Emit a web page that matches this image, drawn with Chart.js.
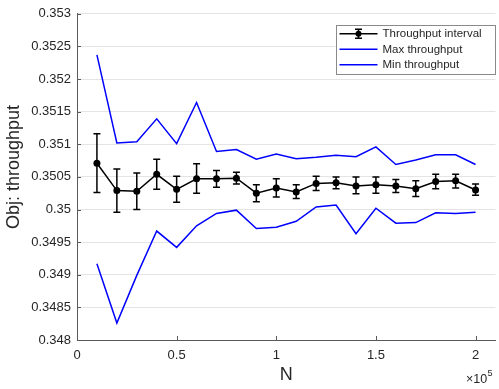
<!DOCTYPE html>
<html>
<head>
<meta charset="utf-8">
<script src="https://cdn.jsdelivr.net/npm/chart.js@4/dist/chart.umd.min.js"></script>
<style>
  body { margin: 0; background: #fff; }
  canvas { display: block; }
</style>
</head>
<body>
<canvas id="grafico" width="499" height="389"></canvas>
<script>
// N values (plotted in units of 10^5 on the axis)
const nValues = [10000, 20000, 30000, 40000, 50000, 60000, 70000, 80000, 90000, 100000,
  110000, 120000, 130000, 140000, 150000, 160000, 170000, 180000, 190000, 200000];

const meanThroughput = [0.35071, 0.35029, 0.35028, 0.35054, 0.35031, 0.35047, 0.35047, 0.35048, 0.35025, 0.35033,
  0.35027, 0.35040, 0.35041, 0.35036, 0.35038, 0.35036, 0.35032, 0.35043, 0.35044, 0.35030];
const ciUpper = [0.35116, 0.35062, 0.35056, 0.35077, 0.35051, 0.35070, 0.35060, 0.35057, 0.35038, 0.35047,
  0.35038, 0.35051, 0.35050, 0.35050, 0.35050, 0.35046, 0.35044, 0.35054, 0.35054, 0.35039];
const ciLower = [0.35026, 0.34996, 0.35000, 0.35031, 0.35011, 0.35025, 0.35034, 0.35039, 0.35012, 0.35019,
  0.35017, 0.35029, 0.35032, 0.35024, 0.35025, 0.35026, 0.35020, 0.35032, 0.35033, 0.35022];
const maxThroughput = [0.35237, 0.35102, 0.35104, 0.35139, 0.35101, 0.35164, 0.35089, 0.35092, 0.35077, 0.35085,
  0.35078, 0.35080, 0.35083, 0.35081, 0.35096, 0.35069, 0.35076, 0.35084, 0.35084, 0.35069];
const minThroughput = [0.34917, 0.34826, 0.34899, 0.34967, 0.34942, 0.34975, 0.34994, 0.34999, 0.34971, 0.34973,
  0.34982, 0.35004, 0.35007, 0.34963, 0.35002, 0.34979, 0.34980, 0.34995, 0.34994, 0.34996];

const xTicks = [0, 50000, 100000, 150000, 200000];
const yTicks = [0.348, 0.3485, 0.349, 0.3495, 0.35, 0.3505, 0.351, 0.3515, 0.352, 0.3525, 0.353];

const seriesNames = ["Throughput interval", "Max throughput", "Min throughput"];

const FONT = "'Liberation Sans', Arial, sans-serif";
const AXIS_COLOR = "#5a5a5a";
const TEXT_COLOR = "#262626";

const pts = arr => arr.map((v, i) => ({ x: nValues[i], y: v }));

// error bars + inside tick marks + axis titles + legend
const extras = {
  id: "extras",
  beforeDatasetsDraw(chart) {
    const ctx = chart.ctx, xs = chart.scales.x, ys = chart.scales.y;
    ctx.save();
    ctx.strokeStyle = "#000";
    ctx.lineWidth = 1.5;
    nValues.forEach((n, i) => {
      const px = xs.getPixelForValue(n);
      const top = ys.getPixelForValue(ciUpper[i]);
      const bot = ys.getPixelForValue(ciLower[i]);
      ctx.beginPath();
      ctx.moveTo(px, top); ctx.lineTo(px, bot);
      ctx.moveTo(px - 3.5, top); ctx.lineTo(px + 3.5, top);
      ctx.moveTo(px - 3.5, bot); ctx.lineTo(px + 3.5, bot);
      ctx.stroke();
    });
    ctx.restore();
  },
  afterDraw(chart) {
    const ctx = chart.ctx, a = chart.chartArea;
    const xs = chart.scales.x, ys = chart.scales.y;
    ctx.save();
    // inside ticks
    ctx.strokeStyle = AXIS_COLOR;
    ctx.lineWidth = 1;
    ctx.beginPath();
    xTicks.forEach(v => {
      const px = Math.round(xs.getPixelForValue(v)) + 0.5;
      ctx.moveTo(px, a.bottom); ctx.lineTo(px, a.bottom - 4);
    });
    yTicks.forEach(v => {
      const py = Math.round(ys.getPixelForValue(v)) + 0.5;
      ctx.moveTo(a.left, py); ctx.lineTo(a.left + 4, py);
    });
    ctx.stroke();

    // axis titles
    ctx.fillStyle = TEXT_COLOR;
    ctx.textAlign = "center";
    ctx.textBaseline = "middle";
    ctx.font = "18px " + FONT;
    ctx.fillText("N", (a.left + a.right) / 2, 375);
    ctx.save();
    ctx.translate(14, 167);
    ctx.rotate(-Math.PI / 2);
    ctx.fillText("Obj: throughput", 0, 0);
    ctx.restore();

    // exponent label
    ctx.textAlign = "left";
    ctx.textBaseline = "alphabetic";
    ctx.font = "12.5px " + FONT;
    ctx.fillText("\u00d710", 466, 383);
    ctx.font = "9px " + FONT;
    ctx.fillText("5", 487.5, 376);

    // legend
    const bw = 159, bh = 49;
    const bx = a.right - 1 - bw, by = a.top + 11;
    ctx.fillStyle = "#fff";
    ctx.fillRect(bx, by, bw, bh);
    ctx.strokeStyle = "#8a8a8a";
    ctx.lineWidth = 1;
    ctx.strokeRect(Math.round(bx) + 0.5, Math.round(by) + 0.5, bw, bh);
    const rows = [by + 9, by + 24.5, by + 40];
    const colors = ["#000", "#0000ff", "#0000ff"];
    ctx.font = "11.5px " + FONT;
    ctx.textBaseline = "middle";
    seriesNames.forEach((name, i) => {
      const y = rows[i];
      ctx.strokeStyle = colors[i];
      ctx.lineWidth = 1.5;
      ctx.beginPath();
      ctx.moveTo(bx + 4, y); ctx.lineTo(bx + 42, y);
      ctx.stroke();
      if (i === 0) {
        const cx = bx + 23;
        ctx.beginPath();
        ctx.moveTo(cx, y - 4.5); ctx.lineTo(cx, y + 4.5);
        ctx.moveTo(cx - 3.5, y - 4.5); ctx.lineTo(cx + 3.5, y - 4.5);
        ctx.moveTo(cx - 3.5, y + 4.5); ctx.lineTo(cx + 3.5, y + 4.5);
        ctx.stroke();
        ctx.fillStyle = "#000";
        ctx.beginPath();
        ctx.arc(cx, y, 3, 0, Math.PI * 2);
        ctx.fill();
      }
      ctx.fillStyle = TEXT_COLOR;
      ctx.fillText(name, bx + 47, y + 0.5);
    });
    ctx.restore();
  }
};

new Chart(document.getElementById("grafico"), {
  type: "line",
  data: {
    datasets: [{
      label: seriesNames[0],
      data: pts(meanThroughput),
      borderColor: "#000",
      backgroundColor: "#000",
      borderWidth: 1.5,
      pointRadius: 3.5,
      pointHoverRadius: 3.5,
      pointBackgroundColor: "#000",
      pointBorderWidth: 0,
      tension: 0
    }, {
      label: seriesNames[1],
      data: pts(maxThroughput),
      borderColor: "#0000ff",
      borderWidth: 1.5,
      pointRadius: 0,
      tension: 0
    }, {
      label: seriesNames[2],
      data: pts(minThroughput),
      borderColor: "#0000ff",
      borderWidth: 1.5,
      pointRadius: 0,
      tension: 0
    }]
  },
  options: {
    responsive: false,
    animation: false,
    layout: { padding: { top: 9, right: 2, left: 0, bottom: 0 } },
    plugins: {
      legend: { display: false },
      tooltip: { enabled: false }
    },
    scales: {
      x: {
        type: "linear",
        min: 0,
        max: 210000,
        afterBuildTicks: s => { s.ticks = xTicks.map(v => ({ value: v })); },
        afterFit: s => { s.height = 49; },
        grid: { display: false, drawTicks: false },
        border: { display: true, color: AXIS_COLOR, width: 1 },
        ticks: {
          autoSkip: false,
          maxRotation: 0,
          padding: 8,
          color: TEXT_COLOR,
          font: { family: FONT, size: 13 },
          callback: v => String(parseFloat((v / 100000).toFixed(2)))
        }
      },
      y: {
        min: 0.348,
        max: 0.353,
        afterBuildTicks: s => { s.ticks = yTicks.map(v => ({ value: v })); },
        afterFit: s => { s.width = 77; },
        grid: { color: "#e4e4e4", lineWidth: 1, drawTicks: false },
        border: { display: true, color: AXIS_COLOR, width: 1 },
        ticks: {
          autoSkip: false,
          padding: 6,
          color: TEXT_COLOR,
          font: { family: FONT, size: 13 },
          callback: v => String(parseFloat(v.toFixed(4)))
        }
      }
    }
  },
  plugins: [extras]
});
</script>
</body>
</html>
